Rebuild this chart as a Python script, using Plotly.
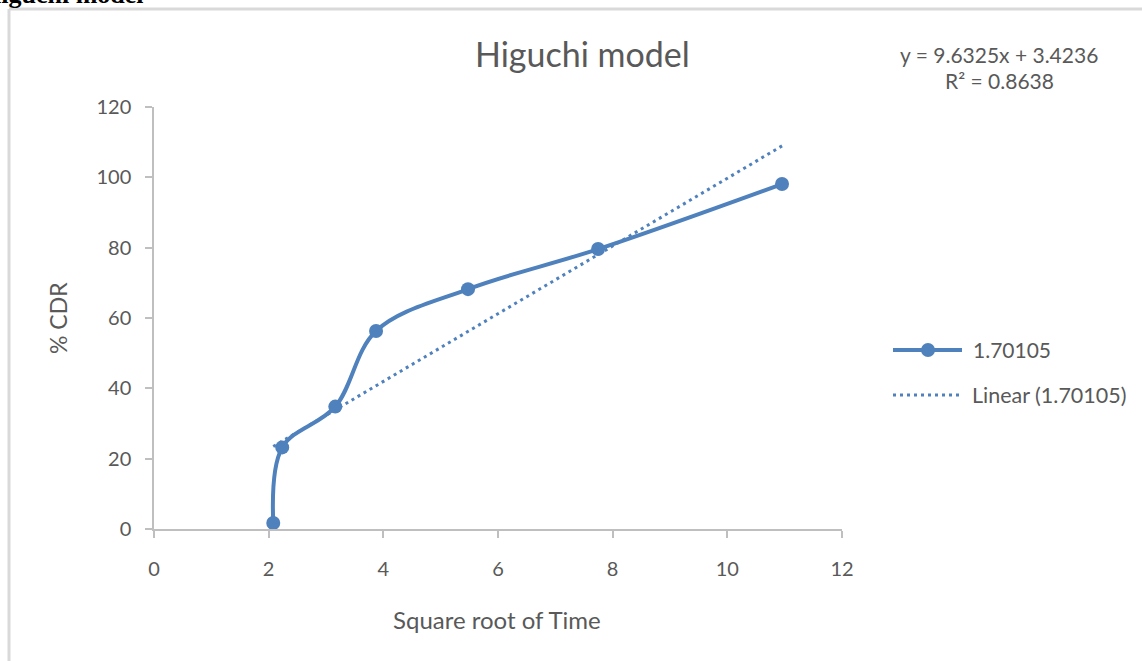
import plotly.graph_objects as go

# Higuchi release data: square root of time vs cumulative drug release
sqrt_time = [2.08, 2.236, 3.162, 3.873, 5.477, 7.746, 10.954]
cdr_percent = [1.7, 23.2, 34.8, 56.3, 68.2, 79.6, 98.1]
series_name = "1.70105"

# Linear trendline as reported on the chart
slope = 9.6325
intercept = 3.4236
r_squared = 0.8638

x_ticks = [0, 2, 4, 6, 8, 10, 12]
y_ticks = [0, 20, 40, 60, 80, 100, 120]

W, H = 1142, 661
BLUE = "#4F81BD"
GREY_TXT = "#595959"
AXIS_GREY = "#BFBFBF"
FONT = "Lato"


def px(xp):
    return xp / W


def py(yp):
    return 1 - yp / H


trend_x = [min(sqrt_time), max(sqrt_time)]
trend_y = [slope * v + intercept for v in trend_x]

fig = go.Figure()
fig.add_trace(go.Scatter(
    x=trend_x, y=trend_y, mode="lines", name=f"Linear ({series_name})",
    line=dict(color=BLUE, width=3, dash="3px,4px"), hoverinfo="skip",
))
fig.add_trace(go.Scatter(
    x=sqrt_time, y=cdr_percent, mode="lines+markers", name=series_name,
    line=dict(color=BLUE, width=4, shape="spline", smoothing=1.0),
    marker=dict(color=BLUE, size=14),
))

fig.update_layout(
    template="none",
    width=W, height=H,
    margin=dict(l=0, r=0, t=0, b=0, pad=0),
    paper_bgcolor="white", plot_bgcolor="white",
    showlegend=False,
    font=dict(family=FONT, color=GREY_TXT),
    xaxis=dict(
        domain=[px(154), px(842)], range=[0, 12], tickvals=x_ticks,
        automargin=False,
        showgrid=False, zeroline=False, showline=True, linecolor=AXIS_GREY,
        linewidth=1.5, ticks="outside", ticklen=7, tickcolor=AXIS_GREY,
        tickwidth=1.5, tickfont=dict(size=20, color=GREY_TXT, family=FONT),
        ticklabelstandoff=14,
    ),
    yaxis=dict(
        domain=[py(529), py(107)], range=[0, 120], tickvals=y_ticks,
        automargin=False,
        showgrid=False, zeroline=False, showline=True, linecolor=AXIS_GREY,
        linewidth=1.5, ticks="outside", ticklen=7, tickcolor=AXIS_GREY,
        tickwidth=1.5, tickfont=dict(size=20, color=GREY_TXT, family=FONT),
        ticklabelstandoff=10,
    ),
)

annotations = [
    dict(text="Higuchi model", x=px(582), y=py(53), font=dict(size=34)),
    dict(text=f"y = {slope}x + {intercept}", x=px(999), y=py(54), font=dict(size=21)),
    dict(text=f"R² = {r_squared}", x=px(999), y=py(81), font=dict(size=21)),
    dict(text="Square root of Time", x=px(497), y=py(619), font=dict(size=24)),
    dict(text="% CDR", x=px(58), y=py(318), textangle=-90, font=dict(size=23)),
    dict(text=series_name, x=px(971), y=py(350), xanchor="left", font=dict(size=21)),
    dict(text=f"Linear ({series_name})", x=px(970), y=py(395), xanchor="left", font=dict(size=21.5)),
    # section heading above the chart frame
    dict(text="<b>Higuchi model</b>", x=px(-21), y=py(11), xanchor="left", yanchor="bottom",
         font=dict(size=26, family="Liberation Serif", color="black")),
]
for a in annotations:
    a.setdefault("xanchor", "center")
    a.setdefault("yanchor", "middle")
    a.update(xref="paper", yref="paper", showarrow=False)
    a["font"].setdefault("family", FONT)
    a["font"].setdefault("color", GREY_TXT)
fig.update_layout(annotations=annotations)

shapes = [
    # outer chart frame (left and top edges)
    dict(type="line", x0=px(9), x1=px(9), y0=py(9), y1=py(H + 5), line=dict(color="#D9D9D9", width=3)),
    dict(type="line", x0=px(9), x1=px(W + 5), y0=py(9), y1=py(9), line=dict(color="#D9D9D9", width=3)),
    # legend samples
    dict(type="line", x0=px(893), x1=px(962), y0=py(350), y1=py(350), line=dict(color=BLUE, width=4)),
    dict(type="circle", x0=px(921), x1=px(935), y0=py(343), y1=py(357), fillcolor=BLUE, line=dict(width=0)),
    dict(type="line", x0=px(893), x1=px(962), y0=py(395), y1=py(395), line=dict(color=BLUE, width=3, dash="3px,4px")),
]
for s in shapes:
    s.update(xref="paper", yref="paper")
fig.update_layout(shapes=shapes)

fig.write_html("out.html")
